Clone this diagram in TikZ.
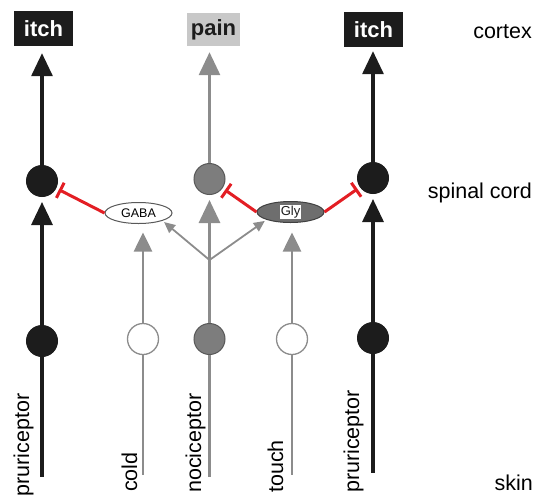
\documentclass[tikz,border=0pt]{standalone}
\usepackage{fontspec}
\setmainfont{Liberation Sans}
\usetikzlibrary{arrows.meta,shapes.geometric}
\definecolor{blk}{HTML}{1C1C1C}
\definecolor{gry}{HTML}{8C8C8C}
\definecolor{gryfill}{HTML}{7D7D7D}
\definecolor{paingray}{HTML}{C8C8C8}
\definecolor{inhred}{HTML}{E31E24}
\definecolor{glyfill}{HTML}{6E6E6E}
\begin{document}
\begin{tikzpicture}[x=1pt,y=-1pt,
  every node/.style={font=\fontsize{21.5}{24}\selectfont},
  topbox/.style={minimum width=59pt, minimum height=35pt, inner sep=0pt, font=\fontsize{22}{24}\selectfont\bfseries},
  neuron/.style={circle, minimum size=31pt, inner sep=0pt, line width=1pt},
  nblack/.style={neuron, fill=blk, draw=blk},
  ngray/.style={neuron, fill=gryfill, draw=gryfill!70!black},
  nwhite/.style={neuron, fill=white, draw=gry, line width=1.3pt},
  blkline/.style={draw=blk, line width=3.2pt},
  gryline/.style={draw=gry, line width=3pt},
  bigtip/.style={-{Triangle[width=21pt,length=23pt]}},
  midtip/.style={-{Triangle[width=18pt,length=19pt]}},
  thintip/.style={draw=gry, line width=1.8pt, -{Triangle[width=10pt,length=11pt]}},
  inhib/.style={draw=inhred, line width=3pt, -{Bar[width=17pt,line width=3pt]}, shorten >=3pt},
  rotlabel/.style={rotate=90, anchor=base west, inner sep=0pt},
  sidelabel/.style={anchor=base east, inner sep=0pt},
  transmitter/.style={ellipse, minimum width=67pt, minimum height=21pt, inner sep=0pt, line width=1pt}
]
\useasboundingbox (0,0) rectangle (541,496);
% top boxes
\node[topbox, fill=blk, text=white] (itchL) at (43.5,28.5) {itch};
\node[topbox, fill=paingray, text=blk, minimum width=53pt, minimum height=33pt] (pain) at (213.5,29.5) {pain};
\node[topbox, fill=blk, text=white] (itchR) at (373.5,29.5) {itch};
% neurons
\node[nblack] (L2) at (42,181) {};
\node[ngray] (M2) at (209.5,179) {};
\node[nblack] (R2) at (373,178) {};
\node[nblack] (L1) at (42,341) {};
\node[nwhite] (C1) at (143,339) {};
\node[ngray] (M1) at (209.5,339) {};
\node[nwhite] (T1) at (292,339) {};
\node[nblack] (R1) at (373,338) {};
% interneurons
\node[transmitter, draw=black!65, fill=white, font=\fontsize{12.5}{14}\selectfont] (GABA) at (138.5,213) {GABA};
\node[transmitter, draw=black!75, fill=glyfill, label={[fill=white, inner sep=1.2pt, font=\fontsize{13}{14}\selectfont, text=blk]center:Gly}] (Gly) at (290.5,212) {};
% free ends
\coordinate (Lend) at (42,477);
\coordinate (Cend) at (143,475);
\coordinate (Mend) at (209.5,477);
\coordinate (Tend) at (292,475);
\coordinate (Rend) at (373,473);
\coordinate (split) at (209.5,260);
% ascending
\draw[blkline, bigtip, shorten >=7pt] (L2) -- (L2 |- itchL.south);
\draw[gryline, bigtip, shorten >=6pt] (M2) -- (M2 |- pain.south);
\draw[blkline, bigtip, shorten >=4pt] (R2) -- (R2 |- itchR.south);
\draw[blkline, bigtip, shorten >=5pt] (L1) -- (L2);
\draw[gryline, bigtip, shorten >=5pt] (M1) -- (M2);
\draw[blkline, bigtip, shorten >=5pt] (R1) -- (R2);
% peripheral
\draw[blkline] (L1) -- (Lend);
\draw[gryline, line width=2.6pt] (C1) -- (Cend);
\draw[gryline] (M1) -- (Mend);
\draw[gryline, line width=2.6pt] (T1) -- (Tend);
\draw[blkline] (R1) -- (Rend);
\draw[gryline, line width=2.6pt, midtip, shorten >=8.5pt] (C1) -- (C1 |- GABA.south);
\draw[gryline, line width=2.6pt, midtip, shorten >=9.5pt] (T1) -- (T1 |- Gly.south);
% collaterals
\draw[thintip, shorten >=2pt] (split) -- (GABA.south east);
\draw[thintip, shorten >=2pt] (split) -- (Gly.south west);
% inhibition
\draw[inhib] (GABA.west) -- (L2);
\draw[inhib] (Gly.west) -- (M2);
\draw[inhib] (Gly.east) -- (R2);
% side labels
\node[sidelabel] (cortex) at (532,38) {cortex};
\node[sidelabel] (spinal) at (532,198) {spinal cord};
\node[sidelabel] (skin) at (533,490) {skin};
% fibre labels
\node[rotlabel] (pL) at (29,496.5) {pruriceptor};
\node[rotlabel] (cold) at (137,492) {cold};
\node[rotlabel] (noci) at (201,493) {nociceptor};
\node[rotlabel] (touch) at (283,493) {touch};
\node[rotlabel] (pR) at (359,493) {pruriceptor};
\end{tikzpicture}
\end{document}
